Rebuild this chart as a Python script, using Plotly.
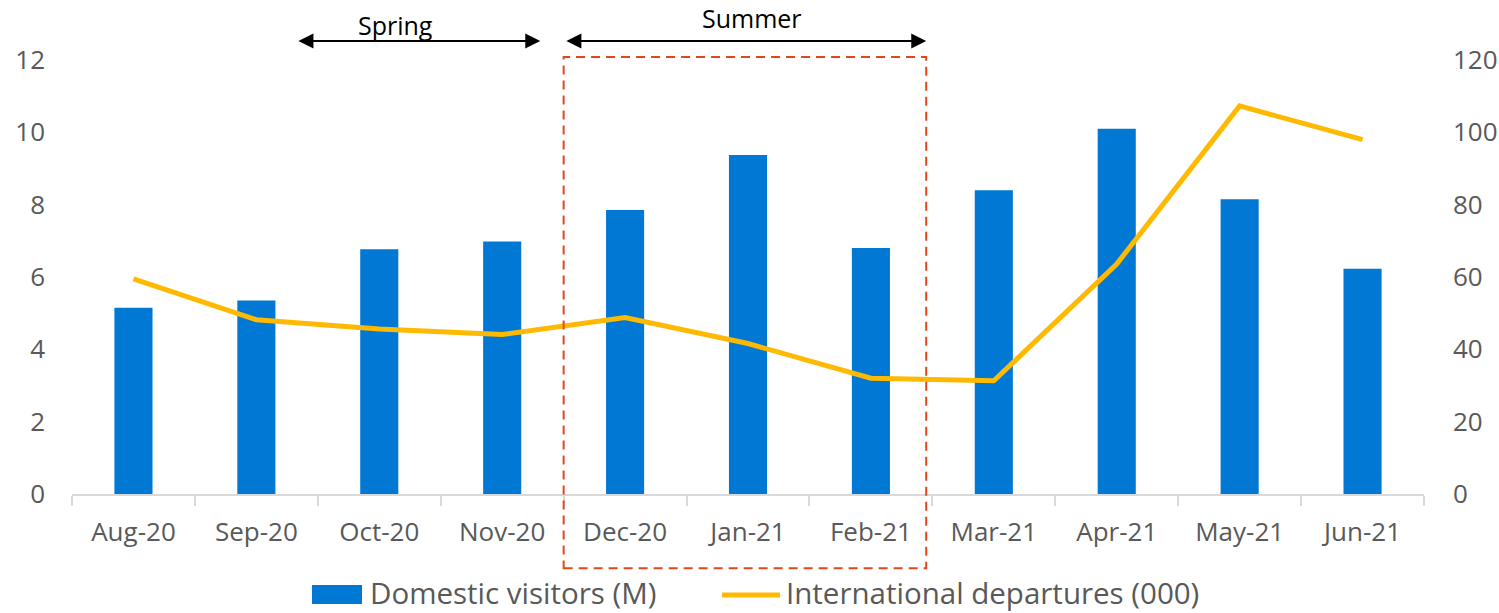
import plotly.graph_objects as go

categories = ["Aug-20", "Sep-20", "Oct-20", "Nov-20", "Dec-20", "Jan-21",
              "Feb-21", "Mar-21", "Apr-21", "May-21", "Jun-21"]
domestic_visitors = [5.15, 5.35, 6.77, 6.98, 7.85, 9.37, 6.8, 8.4, 10.1, 8.15, 6.23]
intl_departures = [59.5, 48.2, 45.6, 44.1, 48.8, 41.6, 32.0, 31.3, 63.6, 107.3, 98.0]
left_ticks = [0, 2, 4, 6, 8, 10, 12]
right_ticks = [0, 20, 40, 60, 80, 100, 120]
bar_name = "Domestic visitors (M)"
line_name = "International departures (000)"

FONT = "Open Sans"
GREY = "#595959"
BLUE = "#0078D4"
GOLD = "#FFB900"

fig = go.Figure()
fig.add_trace(go.Bar(x=categories, y=domestic_visitors, name=bar_name,
                     marker=dict(color=BLUE, line=dict(width=0)), width=0.31, showlegend=False))
fig.add_trace(go.Scatter(x=categories, y=intl_departures, name=line_name,
                         mode="lines", line=dict(color=GOLD, width=5), yaxis="y2", showlegend=False))

# summer dashed box
fig.add_shape(type="rect", xref="x", yref="paper", x0=3.5, x1=6.45, y0=-0.171, y1=1.007,
              line=dict(color="#E0481A", width=2, dash="9px,6px"), fillcolor="rgba(0,0,0,0)")

# arrows
def double_arrow(x0, x1, y):
    fig.add_annotation(xref="x", yref="paper", axref="x", ayref="pixel",
                       x=x1, y=y, ax=x0, ay=0, text="", showarrow=True,
                       arrowhead=2, startarrowhead=2, arrowside="end+start",
                       arrowsize=1.5, startarrowsize=1.5, arrowwidth=2, arrowcolor="black")

double_arrow(1.33, 3.31, 1.044)
double_arrow(3.51, 6.45, 1.044)
fig.add_annotation(xref="x", yref="paper", x=2.136, y=1.081, yanchor="middle", text="Spring",
                   borderpad=0, showarrow=False, font=dict(family=FONT, size=25, color="black"))
fig.add_annotation(xref="x", yref="paper", x=5.03, y=1.096, yanchor="middle", text="Summer",
                   borderpad=0, showarrow=False, font=dict(family=FONT, size=25, color="black"))

# legend (drawn)
LEG_Y = -0.2327
TXT_Y = -0.2270
fig.add_shape(type="rect", xref="paper", yref="paper", x0=0.1775, x1=0.2145, y0=-0.2535, y1=-0.2097,
              fillcolor=BLUE, line=dict(width=0))
fig.add_annotation(xref="paper", yref="paper", x=0.2196, y=TXT_Y, xanchor="left", yanchor="middle",
                   borderpad=0, text=bar_name, showarrow=False,
                   font=dict(family=FONT, size=29.5, color=GREY))
fig.add_shape(type="line", xref="paper", yref="paper", x0=0.4808, x1=0.5237, y0=LEG_Y, y1=LEG_Y,
              line=dict(color=GOLD, width=5))
fig.add_annotation(xref="paper", yref="paper", x=0.5273, y=TXT_Y, xanchor="left", yanchor="middle",
                   borderpad=0, text=line_name, showarrow=False,
                   font=dict(family=FONT, size=29.5, color=GREY))

fig.update_layout(
    width=1499, height=613,
    margin=dict(l=72, r=75, t=60, b=119, autoexpand=False),
    plot_bgcolor="white", paper_bgcolor="white",
    font=dict(family=FONT, color=GREY, size=26),
    bargap=0.69,
    showlegend=False,
    xaxis=dict(type="category", showgrid=False, showline=True, linecolor="#D9D9D9", linewidth=1.5,
               ticks="outside", tickson="boundaries", ticklen=10, tickcolor="#D9D9D9",
               tickwidth=1.5, tickfont=dict(size=26, color=GREY), zeroline=False,
               ticklabelstandoff=14, automargin=False),
    yaxis=dict(range=[0, 12], tickvals=left_ticks, showgrid=False, zeroline=False,
               showline=False, ticks="", tickfont=dict(size=26, color=GREY), ticklabelstandoff=26,
               automargin=False),
    yaxis2=dict(range=[0, 120], tickvals=right_ticks, overlaying="y", side="right",
                showgrid=False, zeroline=False, showline=False, ticks="",
                tickfont=dict(size=26, color=GREY), ticklabelstandoff=28, automargin=False),
)

fig.write_html("out.html")
